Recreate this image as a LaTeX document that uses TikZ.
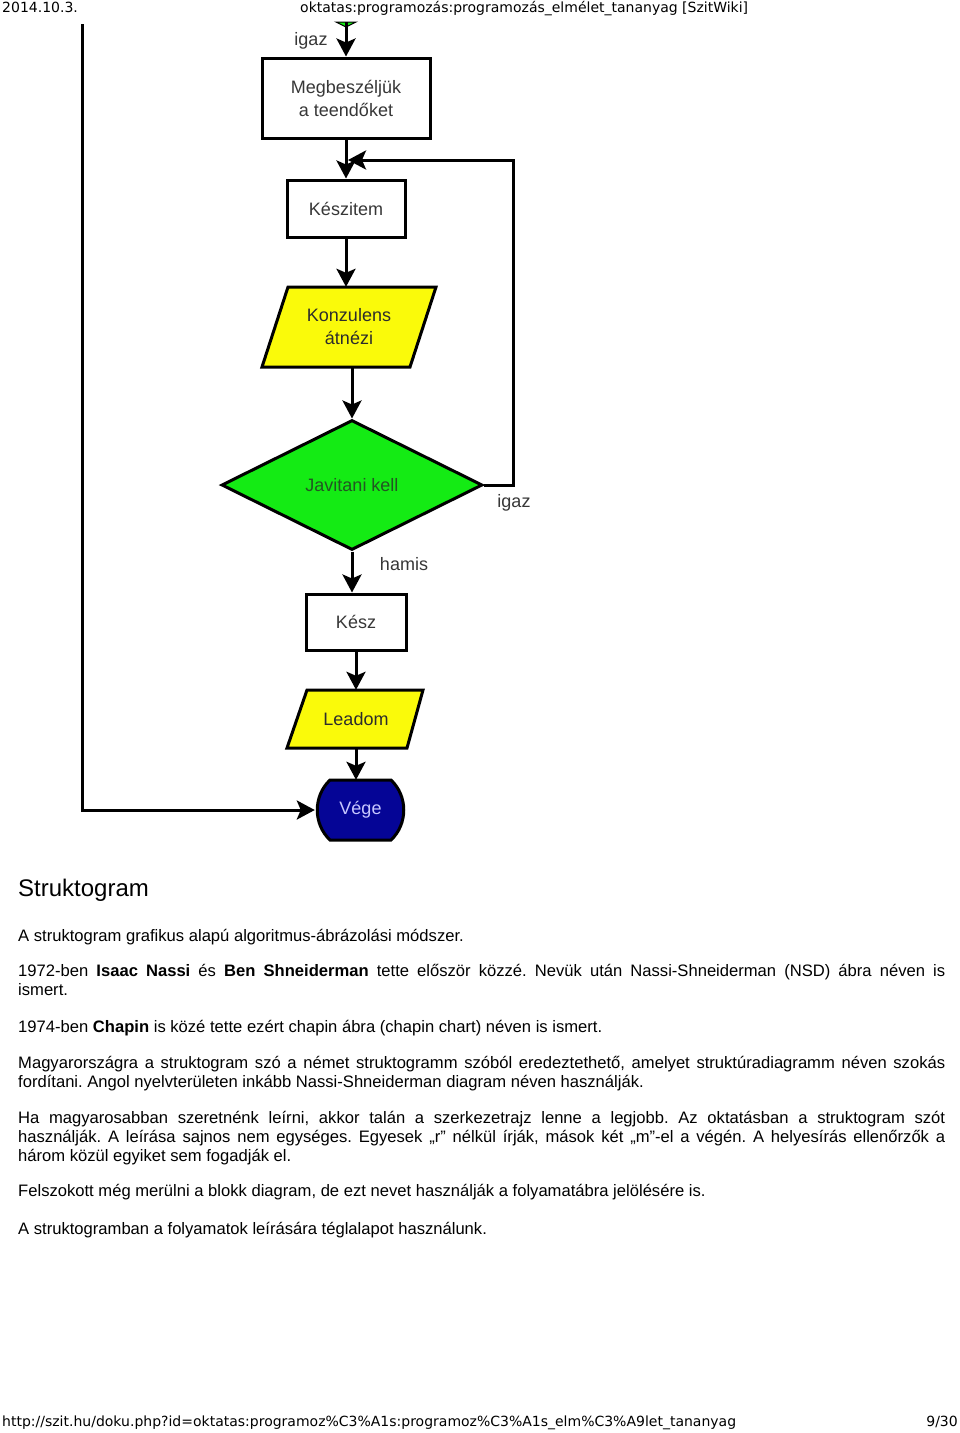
\documentclass[tikz,border=0pt]{standalone}
\usepackage{fontspec}
\setmainfont{Liberation Sans}
\newfontfamily\hdrfont{DejaVu Sans}
\usetikzlibrary{arrows.meta,shapes.geometric}
\definecolor{flowgreen}{RGB}{20,235,20}
\definecolor{flowyellow}{RGB}{250,250,10}
\definecolor{flowblue}{RGB}{5,5,150}
\definecolor{flowtext}{RGB}{55,55,55}
\definecolor{vegetext}{RGB}{200,200,255}
\tikzset{
  flowline/.style={line width=3pt, draw=black},
  arr/.style={flowline, -{Stealth[length=18pt,width=19pt,inset=4pt]}},
  procbox/.style={draw=black, line width=3pt, fill=white, inner sep=0pt, align=center,
    font=\fontsize{18pt}{23pt}\selectfont, text=flowtext},
  anchorbox/.style={inner sep=0pt, align=center, font=\fontsize{18pt}{23pt}\selectfont},
  lbl/.style={inner sep=0pt, font=\fontsize{18pt}{22pt}\selectfont, text=flowtext},
  para/.style={inner sep=0pt, anchor=base west, font=\fontsize{16.6pt}{19pt}\selectfont},
  hdr/.style={inner sep=0pt, font=\hdrfont\fontsize{14pt}{16pt}\selectfont},
}
\frenchspacing
\begin{document}
\frenchspacing
\begin{tikzpicture}[x=1pt,y=-1pt]
\useasboundingbox (0,0) rectangle (960,1433);
\fill[white] (0,0) rectangle (960,1433);

% header
\node[hdr, anchor=base west] (date) at (2,12) {2014.10.3.};
\node[hdr, anchor=base west] (title) at (300,12) {oktatas:programozás:programozás\_elmélet\_tananyag [SzitWiki]};

% diagram
\fill[flowgreen, draw=black, line width=1pt] (336,22) -- (356,22) -- (346,27) -- cycle;
\coordinate (topstart) at (346,22);
\coordinate (leftstart) at (82,24);

\node[procbox, minimum width=168pt, minimum height=80pt] (box1) at (346,98) {Megbeszéljük\\a teendőket};
\node[procbox, minimum width=118pt, minimum height=57pt] (box2) at (346,208.5) {Készitem};

% Konzulens parallelogram
\filldraw[fill=flowyellow, draw=black, line width=3pt, line join=miter] (288,287) -- (436,287) -- (410,367) -- (262,367) -- cycle;
\node[anchorbox, minimum height=80pt, text=flowtext!80!black] (konz) at (349,327) {Konzulens\\átnézi};

% diamond
\node[diamond, aspect=2, draw=black, line width=3pt, fill=flowgreen, minimum width=261pt, minimum height=130pt, inner sep=0pt,
  font=\fontsize{18pt}{22pt}\selectfont, text={rgb,255:red,35;green,85;blue,35}] (dia) at (352,485) {Javitani kell};

\node[procbox, minimum width=100pt, minimum height=56pt] (kesz) at (356,622) {Kész};

% Leadom parallelogram
\filldraw[fill=flowyellow, draw=black, line width=3pt, line join=miter] (307,690) -- (423,690) -- (407,748) -- (287,748) -- cycle;
\node[anchorbox, minimum height=58pt, text=flowtext!80!black] (lead) at (356,719) {Leadom};

% Vege terminal
\filldraw[fill=flowblue, draw=black, line width=3pt] (330,780) -- (391,780) .. controls (408,796) and (408,824) .. (391,840) -- (330,840) .. controls (313,824) and (313,796) .. (330,780) -- cycle;
\node[anchorbox, minimum width=85pt, minimum height=60pt, text=vegetext] (vege) at (360.5,810) {Vége};

% connectors
\coordinate (j) at (346,160);
\coordinate (r) at (513,160);
\draw[arr] (topstart) -- (box1.north);
\draw[arr] (box1.south) -- (box2.north);
\draw[arr] (dia.east) -| (r) -- ([xshift=2pt]j);
\draw[arr] (box2.south) -- (box2.south |- konz.north);
\draw[arr] (dia.north |- konz.south) -- (dia.north);
\draw[arr] (dia.south) -- (dia.south |- kesz.north);
\draw[arr] (kesz.south) -- (kesz.south |- lead.north);
\draw[arr] (lead.south) -- (lead.south |- vege.north);
\draw[arr] (leftstart) |- ([xshift=-3pt]vege.west);

% labels
\node[lbl] (l1) at (311,41) {igaz};
\node[lbl] (l2) at (514,503) {igaz};
\node[lbl] (l3) at (404,564) {hamis};

% text
\node[inner sep=0pt, anchor=base west, font=\fontsize{24pt}{28pt}\selectfont] (head) at (18,896) {Struktogram};

\node[para] (p1) at (18,941) {A struktogram grafikus alapú algoritmus-ábrázolási módszer.};

\node[para] (p2a) at (18,976) {\makebox[927pt][s]{1972-ben \textbf{Isaac Nassi} és \textbf{Ben Shneiderman} tette először közzé. Nevük után Nassi-Shneiderman (NSD) ábra néven is}};
\node[para] (p2b) at (18,995) {ismert.};

\node[para] (p3) at (18,1032) {1974-ben \textbf{Chapin} is közé tette ezért chapin ábra (chapin chart) néven is ismert.};

\node[para] (p4a) at (18,1068) {\makebox[927pt][s]{Magyarországra a struktogram szó a német struktogramm szóból eredeztethető, amelyet struktúradiagramm néven szokás}};
\node[para] (p4b) at (18,1087) {fordítani. Angol nyelvterületen inkább Nassi-Shneiderman diagram néven használják.};

\node[para] (p5a) at (18,1123) {\makebox[927pt][s]{Ha magyarosabban szeretnénk leírni, akkor talán a szerkezetrajz lenne a legjobb. Az oktatásban a struktogram szót}};
\node[para] (p5b) at (18,1142) {\makebox[927pt][s]{használják. A leírása sajnos nem egységes. Egyesek „r” nélkül írják, mások két „m”-el a végén. A helyesírás ellenőrzők a}};
\node[para] (p5c) at (18,1161) {három közül egyiket sem fogadják el.};

\node[para] (p6) at (18,1196) {Felszokott még merülni a blokk diagram, de ezt nevet használják a folyamatábra jelölésére is.};

\node[para] (p7) at (18,1234) {A struktogramban a folyamatok leírására téglalapot használunk.};

% footer
\node[hdr, anchor=base west] (url) at (2,1426) {http://szit.hu/doku.php?id=oktatas:programoz\%C3\%A1s:programoz\%C3\%A1s\_elm\%C3\%A9let\_tananyag};
\node[hdr, anchor=base east] (page) at (958,1426) {9/30};
\end{tikzpicture}
\end{document}
